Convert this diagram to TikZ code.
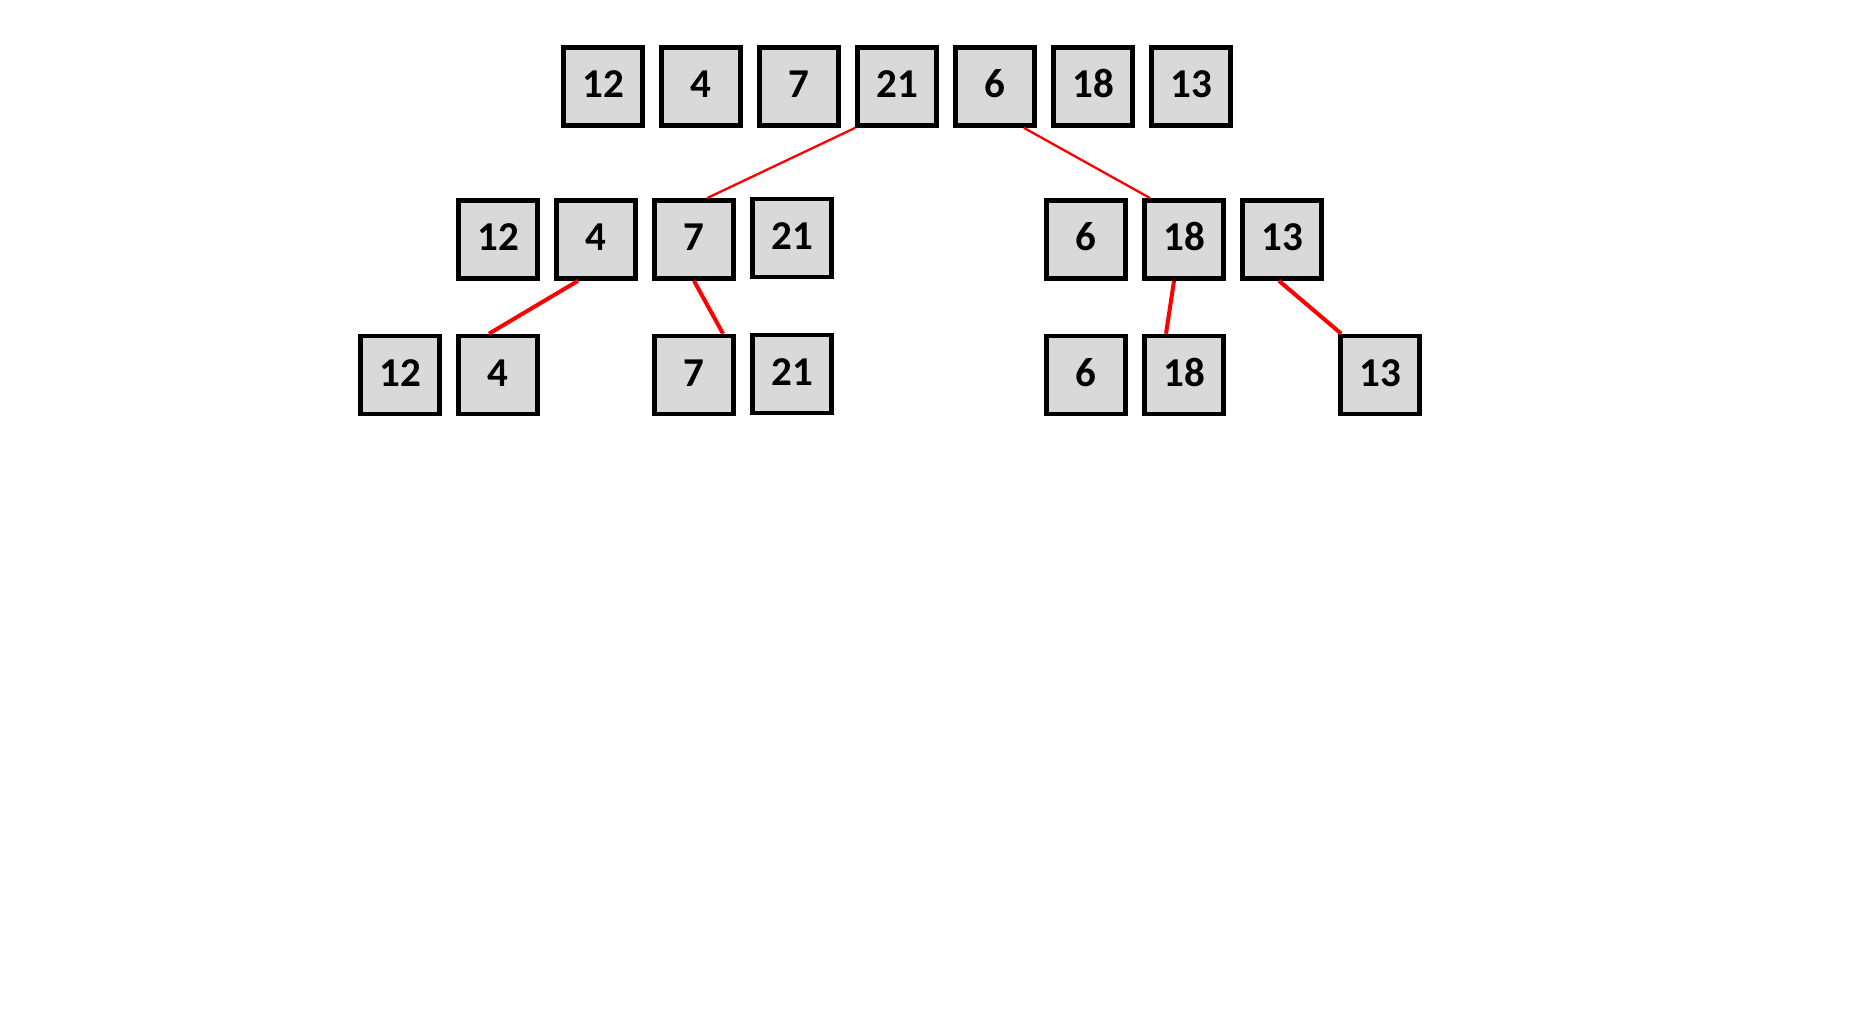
\documentclass[tikz,border=0pt]{standalone}
\usepackage{fontspec}
\setmainfont{Carlito}
\usepackage{tikz}
\usetikzlibrary{positioning}

\definecolor{cellgray}{HTML}{D9D9D9}

\begin{document}
\begin{tikzpicture}[x=1pt,y=-1pt,
        cell/.style={draw=black,fill=cellgray,line width=4.7pt,inner sep=0pt,
            minimum width=79pt,minimum height=78pt,text height=26pt,text depth=4pt,
            font=\fontsize{41}{48}\selectfont\bfseries},
        split/.style={draw=red,line width=2.3pt},
        splitb/.style={draw=red,line width=4pt}]
        \useasboundingbox (0,0) rectangle (1852,1023);
        % whole list
        \node[cell] (a1) at (603,86.5) {12};
        \node[cell] (a2) at (701,86.5) {4};
        \node[cell] (a3) at (799,86.5) {7};
        \node[cell] (a4) at (897,86.5) {21};
        \node[cell] (a5) at (995,86.5) {6};
        \node[cell] (a6) at (1093,86.5) {18};
        \node[cell] (a7) at (1191,86.5) {13};
        % first split
        \node[cell] (b1) at (498,239.5) {12};
        \node[cell] (b2) at (596,239.5) {4};
        \node[cell] (b3) at (694,239.5) {7};
        \node[cell] (b4) at (792,238) {21};
        \node[cell] (b5) at (1086,239.5) {6};
        \node[cell] (b6) at (1184,239.5) {18};
        \node[cell] (b7) at (1282,239.5) {13};
        % second split
        \node[cell] (c1) at (400,375) {12};
        \node[cell] (c2) at (498,375) {4};
        \node[cell] (c3) at (694,375) {7};
        \node[cell] (c4) at (792,374) {21};
        \node[cell] (c5) at (1086,375) {6};
        \node[cell] (c6) at (1184,375) {18};
        \node[cell] (c7) at (1380,375) {13};
        \draw[split] (a4.south west) -- ([xshift=13pt]b3.north);
        \draw[split] ([xshift=-13pt]a5.south east) -- ([xshift=8pt]b6.north west);
        \draw[splitb] ([xshift=-18pt]b2.south) -- ([xshift=-9pt]c2.north);
        \draw[splitb] (b3.south) -- ([xshift=29pt]c3.north);
        \draw[splitb] ([xshift=-10pt]b6.south) -- ([xshift=-18pt]c6.north);
        \draw[splitb] ([xshift=-3pt]b7.south) -- ([xshift=3pt]c7.north west);
    \end{tikzpicture}
\end{document}
